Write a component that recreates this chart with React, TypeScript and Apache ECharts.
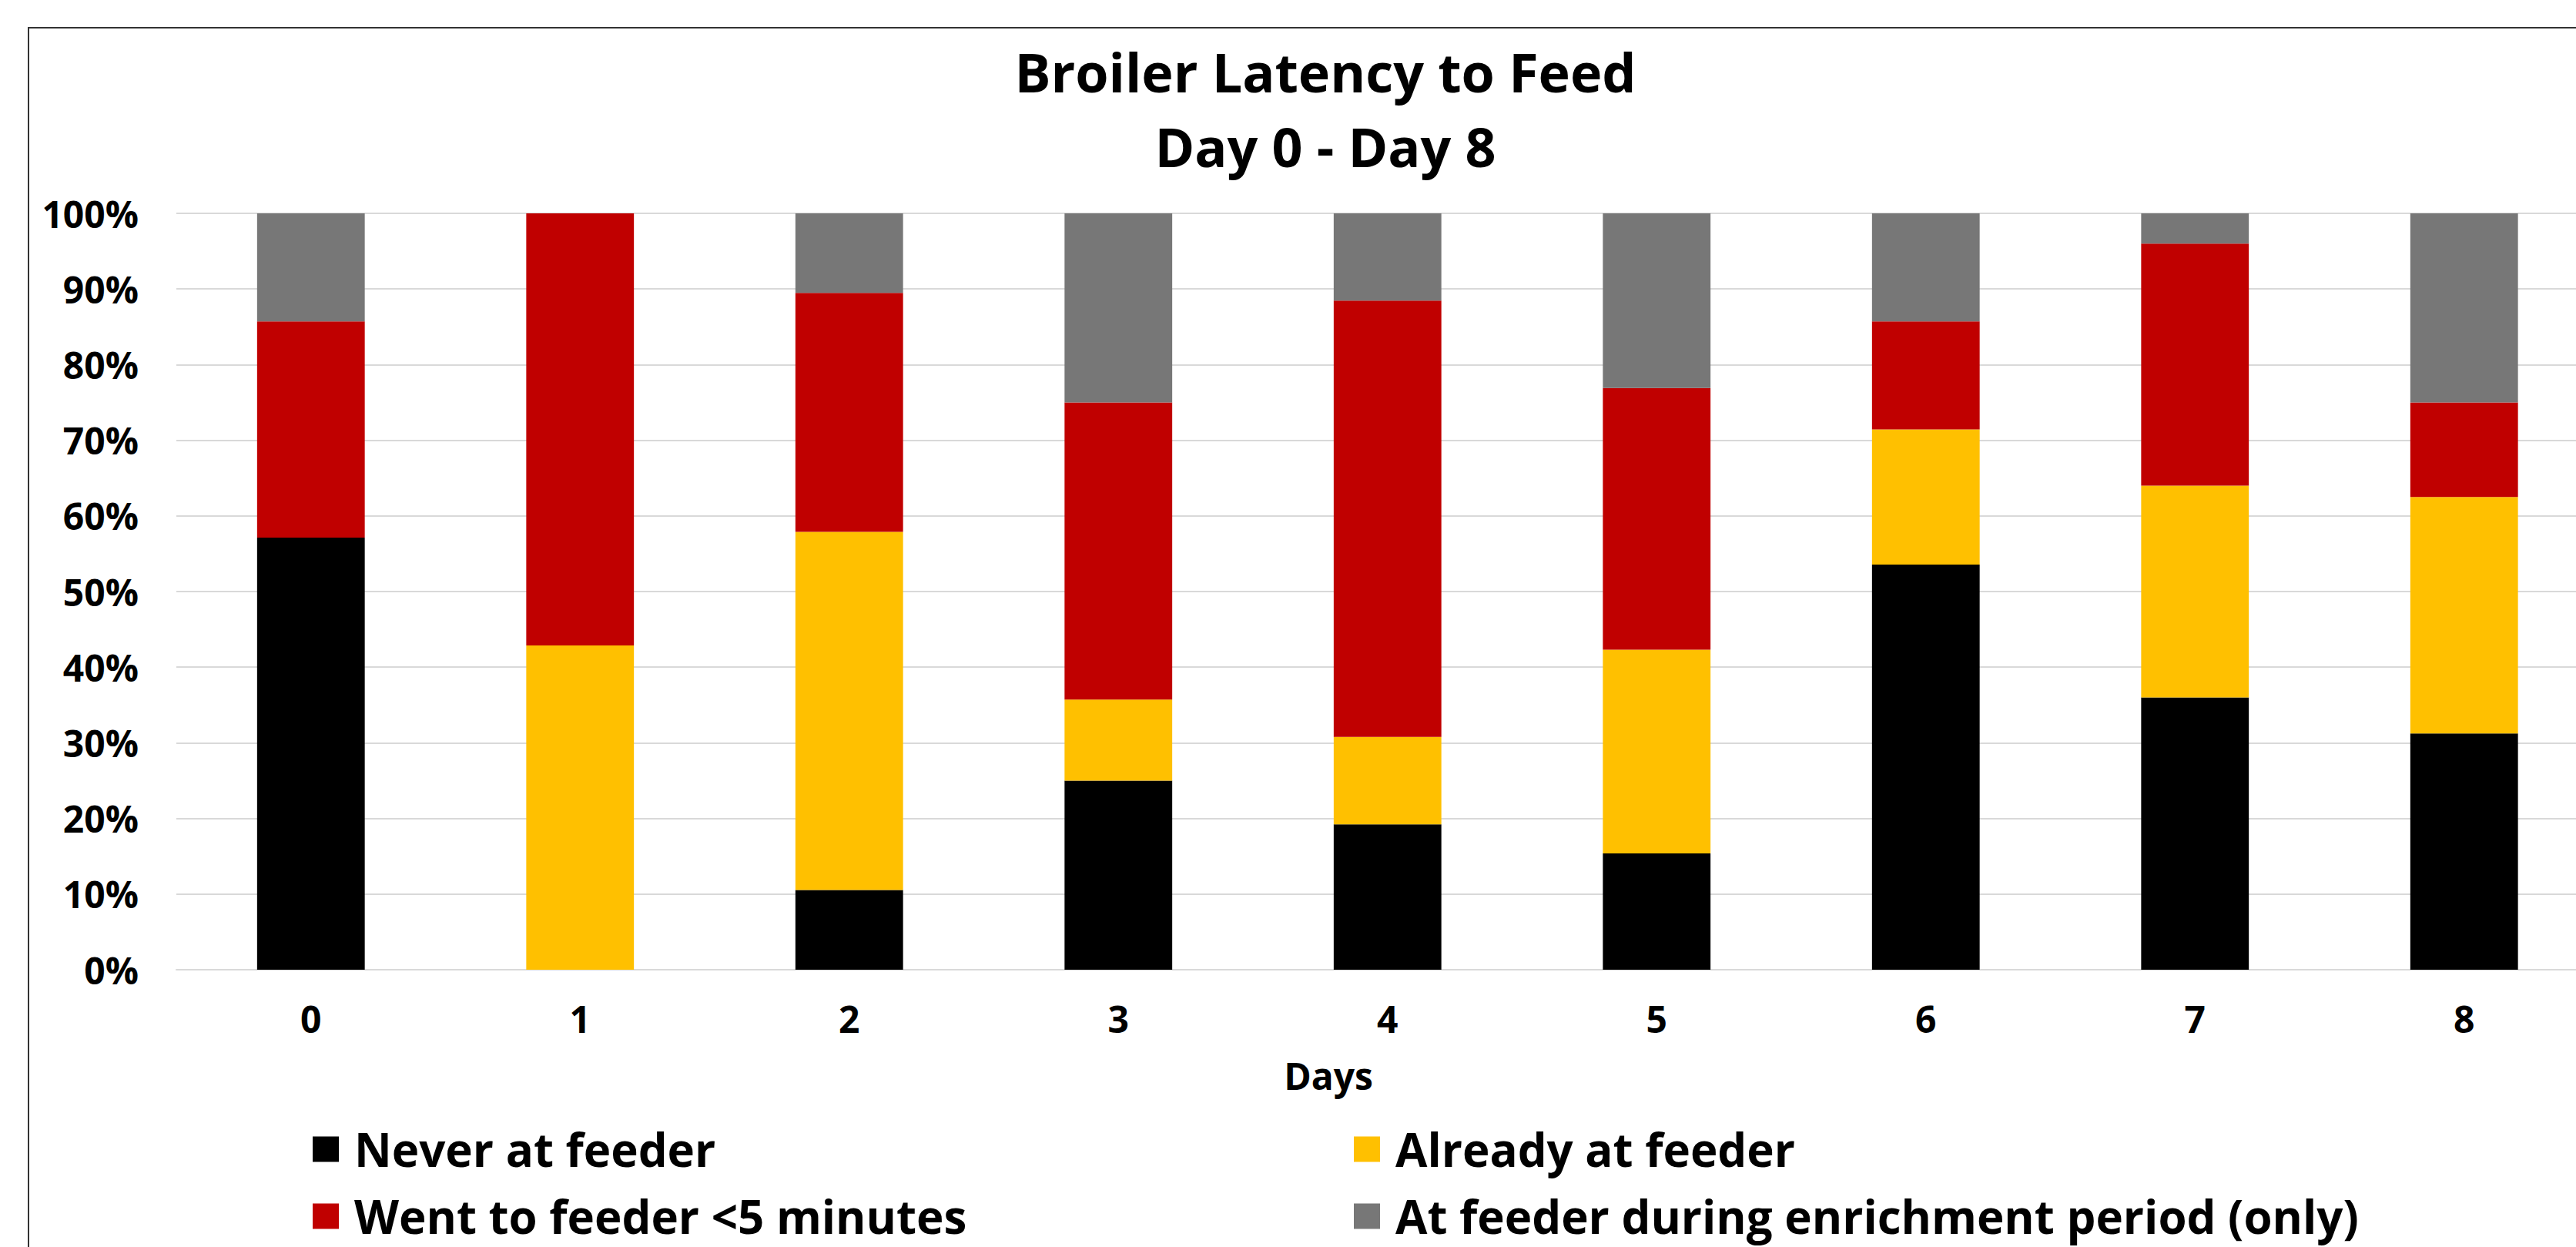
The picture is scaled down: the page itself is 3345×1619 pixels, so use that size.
import React, { useEffect, useRef } from "react";
import * as echarts from "echarts";

const days = ["0", "1", "2", "3", "4", "5", "6", "7", "8"];
const neverAtFeeder = [57.14, 0, 10.53, 25.0, 19.23, 15.38, 53.57, 36.0, 31.25];
const alreadyAtFeeder = [0, 42.86, 47.37, 10.71, 11.54, 26.92, 17.86, 28.0, 31.25];
const wentUnder5 = [28.57, 57.14, 31.58, 39.29, 57.69, 34.62, 14.29, 32.0, 12.5];
const enrichmentOnly = [14.29, 0, 10.53, 25.0, 11.54, 23.08, 14.29, 4.0, 25.0];

const seriesNames = [
  "Never at feeder",
  "Already at feeder",
  "Went to feeder <5 minutes",
  "At feeder during enrichment period (only)",
];
const seriesColors = ["#000000", "#FFC000", "#C00000", "#777777"];
const titleLines = ["Broiler Latency to Feed", "Day 0 - Day 8"];
const xAxisTitle = "Days";

const FONT = "'Open Sans', 'DejaVu Sans', sans-serif";

export default function App() {
  const ref = useRef<HTMLDivElement>(null);

  useEffect(() => {
    if (!ref.current) return;
    const chart = echarts.init(ref.current, null, { renderer: "svg" });
    const dataSets = [neverAtFeeder, alreadyAtFeeder, wentUnder5, enrichmentOnly];
    const W = 3420;

    const legendText = {
      fontSize: 60,
      lineHeight: 60,
      fontWeight: "bold",
      fontFamily: FONT,
      color: "#000",
      padding: [0, 0, 0, 15],
    };

    const titleText = (text: string, y: number) => ({
      type: "text",
      x: 1721,
      y,
      style: {
        text,
        align: "center",
        verticalAlign: "middle",
        fontSize: 70,
        fontWeight: "bold",
        fontFamily: FONT,
        fill: "#000",
      },
    });

    chart.setOption({
      animation: false,
      backgroundColor: "#ffffff",
      textStyle: { fontFamily: FONT, fontWeight: "bold", color: "#000" },
      grid: {
        left: 229,
        top: 277,
        right: W - 3374.5,
        bottom: 1700 - 1259,
        containLabel: false,
      },
      xAxis: {
        type: "category",
        data: days,
        axisLine: { show: true, lineStyle: { color: "#D9D9D9", width: 2 } },
        axisTick: { show: false },
        axisLabel: {
          margin: 39,
          fontSize: 48,
          lineHeight: 48,
          fontWeight: "bold",
          fontFamily: FONT,
          color: "#000",
        },
      },
      yAxis: {
        type: "value",
        min: 0,
        max: 100,
        interval: 10,
        axisLine: { show: false },
        axisTick: { show: false },
        splitLine: { lineStyle: { color: "#D9D9D9", width: 2 } },
        axisLabel: {
          formatter: "{value}%",
          margin: 49,
          fontSize: 48,
          fontWeight: "bold",
          fontFamily: FONT,
          color: "#000",
        },
      },
      legend: [
        {
          data: [seriesNames[0], seriesNames[2]],
          orient: "vertical",
          left: 406,
          top: 1462,
          padding: 0,
          itemWidth: 34,
          itemHeight: 33,
          itemGap: 27,
          icon: "rect",
          textStyle: legendText,
        },
        {
          data: [seriesNames[1], seriesNames[3]],
          orient: "vertical",
          left: 1758,
          top: 1462,
          padding: 0,
          itemWidth: 34,
          itemHeight: 33,
          itemGap: 27,
          icon: "rect",
          textStyle: legendText,
        },
      ],
      graphic: [
        {
          type: "rect",
          shape: { x: 37, y: 36, width: 3500, height: 1800 },
          style: { fill: "none", stroke: "#333333", lineWidth: 2 },
          silent: true,
          z: -1,
        },
        titleText(titleLines[0], 93),
        titleText(titleLines[1], 190),
        {
          type: "text",
          x: 1725,
          y: 1396,
          style: {
            text: xAxisTitle,
            align: "center",
            verticalAlign: "middle",
            fontSize: 48,
            fontWeight: "bold",
            fontFamily: FONT,
            fill: "#000",
          },
        },
      ],
      series: seriesNames.map((name, i) => ({
        name,
        type: "bar",
        stack: "total",
        barWidth: "40%",
        data: dataSets[i],
        itemStyle: { color: seriesColors[i] },
        emphasis: { disabled: true },
      })),
    });

    return () => chart.dispose();
  }, []);

  return (
    <div
      style={{
        position: "fixed",
        left: 0,
        top: 0,
        width: "100vw",
        height: "100vh",
        overflow: "hidden",
        background: "#fff",
      }}
    >
      <div ref={ref} style={{ width: 3420, height: 1700 }} />
    </div>
  );
}
